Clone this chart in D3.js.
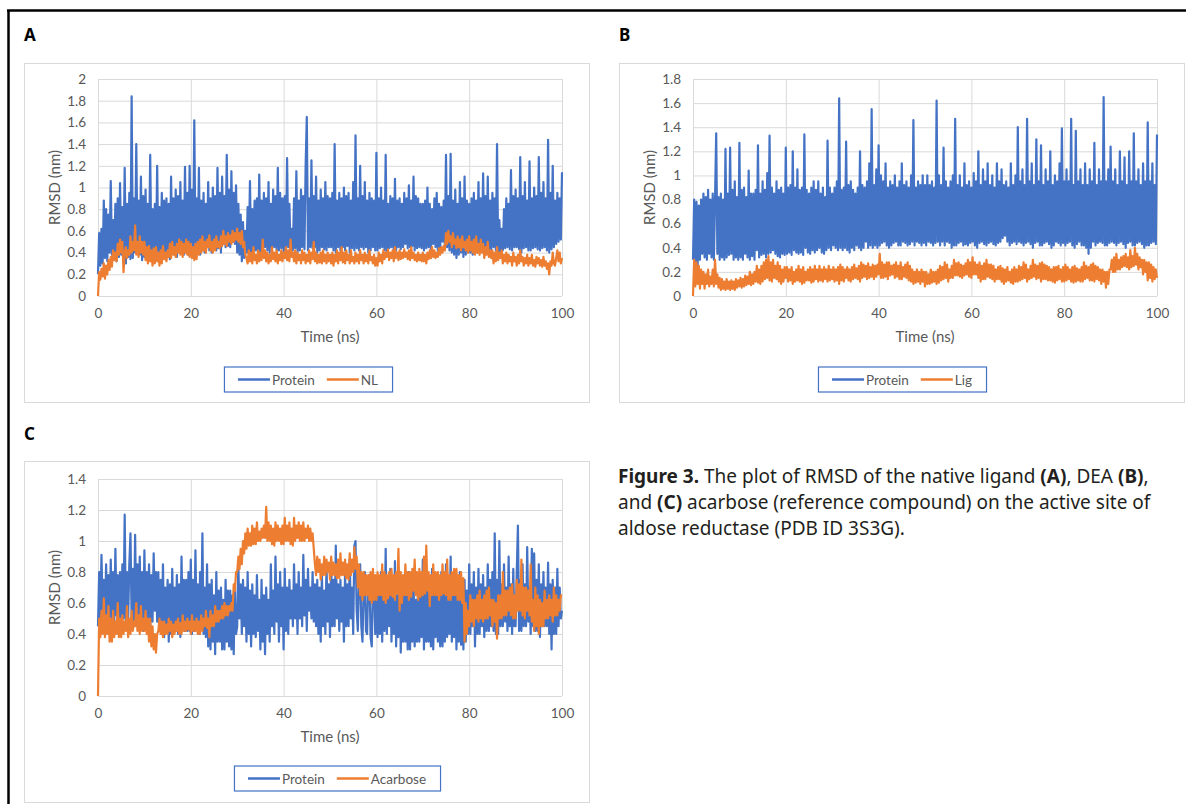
<!DOCTYPE html>
<html>
<head>
<meta charset="utf-8">
<script src="https://cdn.jsdelivr.net/npm/d3@7/dist/d3.min.js"></script>
<style>
  body { margin: 0; background: #fff; }
  svg text { font-family: Lato, "Liberation Sans", sans-serif; }
</style>
</head>
<body>
<svg id="fig" width="1186" height="804"></svg>
<script>
// ---------------------------------------------------------------
// DATA (RMSD in nm, one value every 0.25 ns from 0 to 100 ns)
// ---------------------------------------------------------------
var timeStep = 0.25;
var xTicks = [0, 20, 40, 60, 80, 100];

var proteinA = [
  0.20,0.58,0.28,0.62,0.30,0.88,0.35,0.80,0.32,0.75,0.40,1.06,0.38,0.70,0.40,0.85,0.32,0.90,0.36,1.04,
  0.38,0.82,0.33,1.18,0.30,0.85,0.36,0.95,0.34,1.84,0.35,0.90,0.40,1.40,0.42,0.88,0.38,1.10,0.33,0.92,
  0.36,0.98,0.34,0.85,0.40,1.30,0.38,0.80,0.42,0.85,0.36,1.20,0.35,0.82,0.38,0.95,0.40,0.88,0.34,0.90,
  0.36,0.85,0.34,1.10,0.40,0.90,0.38,0.98,0.36,0.92,0.40,1.05,0.42,0.88,0.38,1.19,0.40,0.95,0.38,1.20,
  0.40,0.98,0.42,1.62,0.45,0.90,0.40,1.18,0.38,0.88,0.42,0.95,0.40,0.85,0.45,1.05,0.42,0.90,0.40,1.00,
  0.45,0.92,0.42,1.18,0.44,0.95,0.40,1.10,0.48,0.92,0.45,1.30,0.46,0.98,0.45,1.15,0.50,0.95,0.48,1.02,
  0.40,0.85,0.38,0.75,0.32,0.68,0.35,0.60,0.40,0.82,0.38,1.06,0.38,0.80,0.42,0.88,0.42,0.90,0.40,1.12,
  0.40,0.88,0.42,0.95,0.45,0.90,0.42,1.05,0.40,0.85,0.44,0.98,0.45,0.92,0.42,1.18,0.42,0.95,0.44,0.90,
  0.40,0.92,0.42,1.27,0.45,0.85,0.40,0.62,0.42,0.90,0.44,1.15,0.40,0.88,0.42,0.98,0.45,0.92,0.43,1.20,
  1.65,0.42,0.90,0.45,1.25,0.44,0.92,0.45,1.10,0.40,0.88,0.42,0.98,0.45,0.90,0.43,1.05,0.42,0.92,0.45,
  0.90,0.45,0.95,0.42,1.40,0.40,0.88,0.45,0.95,0.42,0.90,0.45,1.00,0.42,0.92,0.46,0.95,0.40,0.88,0.44,
  1.05,0.42,1.48,0.44,0.90,0.42,1.20,0.45,0.92,0.43,1.05,0.45,0.88,0.40,0.95,0.42,0.90,0.45,0.88,0.42,
  1.32,0.42,0.90,0.44,1.00,0.45,0.88,0.42,1.30,0.40,0.85,0.44,0.92,0.45,0.90,0.42,1.08,0.42,0.88,0.45,
  0.90,0.43,0.85,0.45,0.95,0.48,0.90,0.44,1.02,0.45,0.88,0.46,1.10,0.42,0.92,0.44,0.90,0.45,0.85,0.44,
  0.85,0.42,0.88,0.44,1.00,0.45,0.85,0.42,0.80,0.48,0.90,0.45,0.95,0.42,0.85,0.44,0.82,0.50,0.88,0.46,
  1.30,0.45,0.92,0.42,1.31,0.40,0.88,0.38,0.98,0.35,0.85,0.38,1.05,0.40,0.90,0.36,1.10,0.38,0.88,0.40,
  0.85,0.40,0.90,0.38,0.95,0.42,0.88,0.40,1.05,0.40,0.90,0.42,1.13,0.45,0.92,0.42,1.10,0.40,0.88,0.43,
  0.95,0.45,0.90,0.42,1.40,0.38,0.70,0.40,0.62,0.42,0.80,0.44,0.90,0.45,0.85,0.43,1.16,0.42,0.92,0.45,
  0.98,0.45,0.90,0.43,1.28,0.40,0.92,0.44,1.05,0.45,0.88,0.42,1.24,0.42,0.90,0.44,1.00,0.45,0.92,0.43,
  1.28,0.42,0.95,0.44,1.05,0.45,0.90,0.42,1.44,0.40,0.95,0.43,1.20,0.45,0.88,0.48,0.95,0.50,0.90,0.52,1.14
];
var nlA = [
  0.00,0.22,0.15,0.25,0.18,0.30,0.16,0.28,0.20,0.33,0.24,0.36,0.27,0.42,0.33,0.40,0.32,0.48,0.38,0.52,
  0.40,0.50,0.22,0.40,0.45,0.35,0.42,0.38,0.55,0.40,0.50,0.42,0.65,0.38,0.50,0.36,0.55,0.40,0.50,0.38,
  0.50,0.33,0.45,0.30,0.46,0.32,0.42,0.28,0.44,0.30,0.45,0.32,0.40,0.28,0.42,0.30,0.46,0.34,0.40,0.32,
  0.42,0.36,0.48,0.35,0.50,0.38,0.45,0.36,0.48,0.40,0.52,0.38,0.50,0.36,0.48,0.40,0.52,0.38,0.50,0.36,
  0.48,0.35,0.45,0.33,0.48,0.34,0.50,0.38,0.52,0.40,0.55,0.42,0.50,0.40,0.52,0.45,0.56,0.42,0.50,0.40,
  0.52,0.42,0.55,0.45,0.50,0.44,0.55,0.46,0.60,0.48,0.55,0.46,0.58,0.50,0.56,0.48,0.60,0.50,0.58,0.52,
  0.62,0.50,0.58,0.48,0.60,0.45,0.50,0.38,0.35,0.30,0.42,0.32,0.40,0.30,0.45,0.33,0.38,0.30,0.42,0.32,
  0.40,0.33,0.52,0.35,0.42,0.32,0.40,0.30,0.38,0.32,0.45,0.34,0.40,0.32,0.42,0.30,0.38,0.33,0.42,0.32,
  0.40,0.35,0.45,0.33,0.42,0.32,0.52,0.36,0.40,0.32,0.42,0.30,0.40,0.33,0.38,0.30,0.42,0.33,0.40,0.30,
  0.38,0.32,0.42,0.30,0.40,0.34,0.50,0.32,0.40,0.30,0.38,0.31,0.40,0.30,0.42,0.32,0.38,0.30,0.40,0.32,
  0.38,0.30,0.40,0.28,0.38,0.32,0.42,0.30,0.40,0.33,0.45,0.31,0.40,0.30,0.42,0.33,0.38,0.30,0.42,0.32,
  0.36,0.30,0.40,0.32,0.38,0.30,0.42,0.33,0.38,0.30,0.40,0.32,0.38,0.30,0.42,0.33,0.36,0.30,0.38,0.28,
  0.35,0.28,0.40,0.32,0.38,0.30,0.42,0.34,0.40,0.36,0.43,0.33,0.40,0.35,0.42,0.32,0.45,0.35,0.40,0.33,
  0.42,0.34,0.40,0.35,0.43,0.36,0.40,0.34,0.42,0.33,0.45,0.35,0.40,0.33,0.38,0.32,0.40,0.33,0.38,0.32,
  0.40,0.32,0.38,0.30,0.40,0.34,0.42,0.35,0.45,0.36,0.42,0.35,0.40,0.36,0.44,0.38,0.45,0.40,0.46,0.42,
  0.58,0.48,0.60,0.50,0.55,0.45,0.58,0.48,0.52,0.44,0.55,0.45,0.52,0.42,0.55,0.45,0.50,0.42,0.52,0.40,
  0.55,0.42,0.50,0.40,0.52,0.38,0.55,0.40,0.48,0.38,0.52,0.40,0.48,0.35,0.45,0.38,0.50,0.36,0.42,0.35,
  0.42,0.30,0.40,0.32,0.45,0.33,0.40,0.35,0.42,0.30,0.38,0.32,0.40,0.30,0.38,0.32,0.36,0.28,0.40,0.32,
  0.36,0.28,0.38,0.30,0.42,0.32,0.36,0.28,0.35,0.30,0.38,0.28,0.35,0.30,0.38,0.28,0.33,0.27,0.36,0.30,
  0.35,0.28,0.33,0.27,0.36,0.28,0.32,0.25,0.30,0.20,0.32,0.28,0.40,0.30,0.28,0.35,0.42,0.32,0.40,0.30,0.35
];

var proteinB = [
  0.30,0.80,0.28,0.78,0.25,0.75,0.30,0.80,0.35,0.85,0.32,0.82,0.30,0.88,0.35,0.80,0.32,0.85,0.30,0.80,
  1.35,0.35,0.82,0.30,0.85,0.32,0.80,0.30,1.22,0.32,0.85,0.34,1.23,0.35,0.88,0.30,0.95,0.32,0.82,0.30,
  1.27,0.32,0.88,0.30,0.90,0.35,0.82,0.32,1.04,0.30,0.85,0.33,0.85,0.30,0.88,0.38,1.25,0.32,0.85,0.34,
  0.95,0.35,0.88,0.32,1.02,0.35,1.33,0.36,0.90,0.38,0.85,0.35,0.95,0.33,0.88,0.32,0.90,0.35,0.85,0.34,
  1.23,0.35,0.90,0.36,0.92,0.34,1.20,0.38,0.90,0.36,1.05,0.35,0.88,0.36,0.90,0.34,1.34,0.40,0.88,0.36,
  0.85,0.35,0.90,0.38,0.95,0.36,0.88,0.38,0.95,0.40,0.85,0.36,0.90,0.35,0.82,0.38,1.29,0.40,0.90,0.38,
  0.85,0.42,0.90,0.40,0.95,0.38,1.64,0.40,0.88,0.38,0.90,0.40,1.28,0.38,0.92,0.36,0.95,0.40,0.88,0.38,
  0.85,0.42,0.90,0.40,1.20,0.38,0.92,0.40,0.90,0.45,0.95,0.40,1.10,0.42,1.55,0.40,0.92,0.42,1.05,0.40,
  1.25,0.42,1.00,0.44,0.95,0.45,1.10,0.42,0.90,0.40,0.95,0.42,0.92,0.44,1.00,0.45,0.90,0.42,0.95,0.42,
  1.10,0.45,0.92,0.44,0.95,0.42,0.90,0.43,1.00,0.45,1.46,0.42,0.90,0.45,0.95,0.44,0.92,0.42,1.00,0.44,
  0.92,0.42,1.00,0.45,0.92,0.44,0.95,0.42,0.90,0.44,1.62,0.45,1.00,0.42,0.92,0.45,1.23,0.42,0.95,0.45,
  0.90,0.44,0.95,0.40,1.00,0.42,1.47,0.42,0.92,0.44,1.00,0.45,0.90,0.42,1.10,0.43,0.92,0.42,0.95,0.44,
  0.90,0.45,1.02,0.42,0.95,0.40,1.20,0.44,0.92,0.45,1.05,0.43,0.95,0.42,1.10,0.44,0.92,0.45,1.00,0.43,
  0.90,0.42,1.10,0.44,0.95,0.45,1.05,0.48,0.92,0.50,0.95,0.45,0.90,0.42,1.10,0.44,0.92,0.45,1.00,0.43,
  1.40,0.45,0.95,0.44,1.05,0.42,0.92,0.44,1.47,0.45,0.95,0.43,1.10,0.40,0.92,0.44,1.30,0.45,0.95,0.42,
  1.25,0.42,0.92,0.44,1.05,0.45,0.95,0.43,1.20,0.40,0.92,0.42,1.00,0.45,0.95,0.44,1.10,0.42,1.39,0.44,
  0.95,0.42,1.05,0.44,0.95,0.45,1.47,0.42,0.92,0.40,1.37,0.43,0.95,0.45,1.05,0.42,0.92,0.42,1.10,0.40,
  0.92,0.35,1.05,0.40,0.95,0.45,1.27,0.42,0.92,0.44,1.05,0.45,0.95,0.44,1.65,0.42,0.95,0.42,1.05,0.44,
  1.24,0.45,0.95,0.44,1.05,0.42,0.92,0.44,1.20,0.45,0.95,0.43,1.15,0.40,0.92,0.44,1.20,0.45,0.95,0.42,
  1.35,0.42,0.95,0.44,1.05,0.45,0.92,0.43,1.10,0.40,0.95,0.42,1.44,0.42,0.95,0.44,1.10,0.45,0.92,0.43,1.34
];
var ligB = [
  0.00,0.30,0.08,0.28,0.10,0.25,0.06,0.22,0.10,0.20,0.06,0.18,0.10,0.22,0.08,0.16,0.10,0.22,0.08,0.30,
  0.10,0.18,0.07,0.15,0.05,0.14,0.06,0.12,0.05,0.14,0.06,0.12,0.05,0.13,0.06,0.12,0.05,0.14,0.07,0.13,
  0.08,0.15,0.07,0.14,0.08,0.17,0.09,0.16,0.10,0.20,0.09,0.18,0.10,0.20,0.12,0.25,0.11,0.22,0.10,0.25,
  0.12,0.28,0.14,0.30,0.15,0.33,0.13,0.28,0.12,0.30,0.15,0.25,0.14,0.28,0.12,0.25,0.10,0.22,0.12,0.24,
  0.15,0.24,0.12,0.22,0.13,0.24,0.10,0.20,0.12,0.22,0.13,0.25,0.12,0.22,0.10,0.24,0.11,0.20,0.13,0.22,
  0.13,0.24,0.11,0.22,0.12,0.25,0.14,0.22,0.12,0.25,0.13,0.22,0.12,0.24,0.14,0.22,0.12,0.25,0.13,0.22,
  0.14,0.24,0.12,0.22,0.13,0.24,0.10,0.26,0.13,0.24,0.12,0.22,0.15,0.24,0.13,0.22,0.12,0.24,0.14,0.26,
  0.15,0.23,0.14,0.25,0.12,0.28,0.15,0.26,0.16,0.25,0.14,0.27,0.15,0.24,0.16,0.26,0.14,0.25,0.16,0.26,
  0.18,0.35,0.15,0.28,0.15,0.26,0.16,0.28,0.14,0.28,0.17,0.25,0.18,0.26,0.15,0.28,0.16,0.25,0.14,0.28,
  0.14,0.24,0.16,0.26,0.15,0.28,0.13,0.25,0.12,0.22,0.10,0.20,0.11,0.22,0.12,0.20,0.10,0.22,0.12,0.20,
  0.08,0.20,0.10,0.18,0.10,0.22,0.11,0.20,0.12,0.20,0.10,0.22,0.11,0.25,0.13,0.24,0.14,0.28,0.15,0.26,
  0.12,0.22,0.15,0.25,0.15,0.30,0.17,0.27,0.17,0.28,0.16,0.26,0.15,0.25,0.17,0.27,0.18,0.30,0.16,0.28,
  0.15,0.32,0.18,0.28,0.18,0.26,0.15,0.28,0.12,0.25,0.14,0.27,0.14,0.30,0.16,0.26,0.15,0.26,0.14,0.25,
  0.12,0.22,0.14,0.24,0.14,0.25,0.12,0.23,0.10,0.22,0.12,0.24,0.13,0.20,0.11,0.22,0.10,0.24,0.12,0.22,
  0.12,0.25,0.13,0.24,0.14,0.28,0.15,0.26,0.12,0.22,0.14,0.25,0.15,0.30,0.16,0.26,0.14,0.25,0.15,0.27,
  0.12,0.28,0.14,0.26,0.14,0.25,0.13,0.24,0.13,0.22,0.12,0.24,0.11,0.24,0.13,0.25,0.14,0.22,0.12,0.24,
  0.12,0.26,0.13,0.24,0.14,0.22,0.12,0.24,0.11,0.25,0.12,0.23,0.13,0.22,0.12,0.24,0.12,0.28,0.14,0.25,
  0.15,0.24,0.13,0.26,0.13,0.27,0.12,0.25,0.14,0.24,0.13,0.22,0.10,0.22,0.12,0.20,0.07,0.20,0.10,0.22,
  0.22,0.30,0.20,0.32,0.20,0.35,0.22,0.30,0.22,0.32,0.24,0.33,0.25,0.35,0.24,0.32,0.22,0.38,0.24,0.33,
  0.25,0.40,0.26,0.35,0.22,0.32,0.24,0.30,0.18,0.30,0.20,0.28,0.13,0.28,0.15,0.26,0.12,0.24,0.14,0.22,0.15
];

var proteinC = [
  0.45,0.80,0.50,0.91,0.55,0.75,0.50,0.85,0.48,0.78,0.50,0.88,0.45,0.80,0.48,0.95,0.52,0.78,0.50,0.80,
  0.45,0.85,0.50,1.17,0.48,0.80,0.50,0.85,1.05,0.48,0.82,0.45,1.04,0.50,0.85,0.48,0.90,0.45,0.80,0.42,
  0.94,0.50,0.80,0.48,0.85,0.45,0.78,0.48,0.92,0.55,0.80,0.48,0.80,0.42,0.75,0.40,0.85,0.38,0.70,0.42,
  0.75,0.35,0.72,0.40,0.82,0.45,0.70,0.42,0.78,0.40,0.72,0.38,0.90,0.48,0.75,0.42,0.75,0.42,0.80,0.42,
  0.88,0.40,0.75,0.42,0.94,0.45,0.72,0.40,0.80,0.45,1.05,0.40,0.70,0.38,0.85,0.32,0.72,0.30,0.75,0.35,
  0.65,0.27,0.80,0.35,0.68,0.35,0.70,0.30,0.62,0.30,0.75,0.35,0.68,0.32,0.68,0.30,0.65,0.27,0.72,0.40,
  0.45,0.85,0.50,0.72,0.40,0.75,0.45,0.70,0.35,0.80,0.40,0.68,0.32,0.72,0.40,0.65,0.38,0.78,0.42,0.62,
  0.30,0.75,0.35,0.65,0.27,0.70,0.40,0.62,0.35,0.85,0.45,0.68,0.40,0.90,0.48,0.72,0.35,0.80,0.45,0.70,
  0.30,0.82,0.42,0.70,0.40,0.75,0.50,0.68,0.45,0.85,0.50,0.72,0.40,0.80,0.50,0.70,0.45,0.91,0.52,0.75,
  0.42,0.82,0.55,0.70,0.50,0.80,0.48,0.72,0.45,0.75,0.40,0.70,0.35,0.78,0.45,0.68,0.40,0.85,0.48,0.72,
  0.38,0.87,0.45,0.75,0.45,0.97,0.50,0.72,0.42,0.75,0.48,0.70,0.35,0.80,0.45,0.72,0.45,0.88,0.50,0.70,
  0.40,0.97,1.00,0.55,0.42,0.75,0.85,0.45,0.35,0.70,0.80,0.42,0.40,0.75,0.78,0.38,0.32,0.70,0.75,0.40,
  0.75,0.38,0.68,0.40,0.80,0.35,0.72,0.42,0.95,0.40,0.70,0.45,0.82,0.35,0.68,0.40,0.87,0.32,0.65,0.38,
  0.78,0.28,0.62,0.35,0.70,0.35,0.65,0.30,0.80,0.30,0.68,0.35,0.75,0.32,0.62,0.35,0.78,0.35,0.65,0.38,
  0.88,0.30,0.70,0.35,0.78,0.35,0.65,0.32,0.82,0.30,0.68,0.38,0.75,0.35,0.62,0.32,0.80,0.32,0.70,0.35,
  0.85,0.38,0.72,0.40,0.90,0.35,0.68,0.38,0.78,0.30,0.65,0.35,0.80,0.33,0.70,0.30,0.75,0.35,0.68,0.40,
  0.85,0.40,0.72,0.45,0.80,0.32,0.70,0.40,0.82,0.40,0.72,0.45,0.78,0.38,0.70,0.42,0.85,0.42,0.75,0.45,
  0.80,0.42,1.05,0.40,0.75,0.40,1.00,0.45,0.72,0.45,0.85,0.48,0.70,0.42,0.90,0.45,0.72,0.40,0.82,0.45,
  0.45,0.80,1.10,0.42,0.75,0.42,0.85,0.45,0.72,0.45,0.96,0.48,0.70,0.40,0.95,0.45,0.92,0.42,0.75,0.42,
  0.85,0.38,0.72,0.45,0.80,0.45,0.70,0.45,0.86,0.40,0.72,0.30,0.75,0.40,0.70,0.40,0.82,0.45,0.70,0.50,0.55
];
var acarboseC = [
  0.00,0.50,0.38,0.55,0.40,0.63,0.38,0.52,0.40,0.58,0.35,0.50,0.35,0.55,0.38,0.48,0.40,0.60,0.38,0.50,
  0.38,0.52,0.40,0.48,0.42,0.58,0.38,0.50,0.40,0.55,0.42,0.48,0.45,0.60,0.42,0.52,0.40,0.58,0.42,0.50,
  0.42,0.55,0.40,0.50,0.35,0.50,0.32,0.45,0.30,0.40,0.28,0.40,0.42,0.50,0.40,0.48,0.38,0.48,0.40,0.46,
  0.40,0.50,0.42,0.48,0.38,0.46,0.40,0.48,0.42,0.50,0.40,0.47,0.40,0.52,0.42,0.48,0.42,0.50,0.43,0.48,
  0.40,0.52,0.42,0.48,0.42,0.50,0.40,0.48,0.40,0.52,0.42,0.50,0.45,0.55,0.44,0.50,0.38,0.55,0.45,0.52,
  0.45,0.58,0.48,0.55,0.48,0.55,0.50,0.58,0.50,0.60,0.52,0.58,0.52,0.58,0.55,0.60,0.55,0.72,0.68,0.80,
  0.80,0.90,0.82,0.95,0.85,1.00,0.92,1.05,0.95,1.08,0.97,1.05,0.97,1.10,0.98,1.08,0.98,1.12,1.00,1.06,
  1.00,1.08,1.02,1.10,1.02,1.22,1.00,1.12,1.00,1.10,0.98,1.08,0.97,1.12,1.00,1.10,1.00,1.08,0.98,1.10,
  0.98,1.15,1.00,1.10,1.00,1.12,0.98,1.08,0.97,1.15,1.00,1.10,1.02,1.12,1.00,1.10,1.00,1.12,1.00,1.08,
  1.02,1.10,1.00,1.08,1.00,1.05,0.95,0.85,0.78,0.90,0.80,0.88,0.75,0.85,0.78,0.90,0.78,0.88,0.80,0.86,
  0.75,0.90,0.78,0.86,0.78,0.85,0.76,0.88,0.76,0.92,0.78,0.86,0.78,0.88,0.76,0.85,0.75,0.92,0.78,0.88,
  0.80,0.96,0.82,0.90,0.70,0.85,0.65,0.80,0.62,0.80,0.65,0.78,0.65,0.78,0.62,0.80,0.60,0.82,0.62,0.78,
  0.62,0.80,0.65,0.78,0.65,0.85,0.62,0.80,0.60,0.78,0.63,0.80,0.65,0.82,0.64,0.78,0.62,0.80,0.66,0.95,
  0.55,0.80,0.60,0.78,0.65,0.85,0.65,0.80,0.62,0.80,0.64,0.82,0.68,0.88,0.65,0.80,0.62,0.82,0.64,0.80,
  0.65,0.90,0.66,0.97,0.68,0.80,0.58,0.78,0.65,0.85,0.65,0.80,0.65,0.80,0.62,0.78,0.65,0.85,0.66,0.80,
  0.65,0.88,0.62,0.78,0.62,0.80,0.65,0.82,0.65,0.82,0.62,0.78,0.62,0.80,0.60,0.76,0.35,0.60,0.40,0.55,
  0.45,0.65,0.48,0.62,0.45,0.62,0.50,0.65,0.48,0.68,0.50,0.62,0.48,0.65,0.50,0.68,0.50,0.70,0.52,0.62,
  0.45,0.62,0.48,0.60,0.37,0.65,0.50,0.65,0.50,0.80,0.52,0.68,0.52,0.68,0.55,0.70,0.52,0.72,0.50,0.65,
  0.50,0.75,0.55,0.72,0.55,0.88,0.52,0.70,0.50,0.70,0.55,0.68,0.52,0.85,0.48,0.62,0.42,0.70,0.45,0.65,
  0.40,0.62,0.45,0.60,0.45,0.68,0.50,0.62,0.50,0.65,0.52,0.62,0.48,0.70,0.52,0.65,0.52,0.62,0.55,0.65,0.65
];

var yTicksA = [0, 0.2, 0.4, 0.6, 0.8, 1, 1.2, 1.4, 1.6, 1.8, 2];
var yTicksB = [0, 0.2, 0.4, 0.6, 0.8, 1, 1.2, 1.4, 1.6, 1.8];
var yTicksC = [0, 0.2, 0.4, 0.6, 0.8, 1, 1.2, 1.4];

var seriesNamesA = ['Protein', 'NL'];
var seriesNamesB = ['Protein', 'Lig'];
var seriesNamesC = ['Protein', 'Acarbose'];

// ---------------------------------------------------------------
// LAYOUT / STYLE
// ---------------------------------------------------------------
var BLUE = '#4472c4',
    ORANGE = '#ed7d31',
    GRID = '#d9d9d9',
    TEXT = '#595959';

var panels = [
  { label: 'A', labelX: 24, labelY: 41, frame: [24, 63, 589, 402], plot: [98, 79, 562, 296],
    yTicks: yTicksA, names: seriesNamesA, values: [proteinA, nlA], legendCx: 308, legendY: 367 },
  { label: 'B', labelX: 619, labelY: 41, frame: [619, 63, 1184, 402], plot: [693, 79, 1157, 296],
    yTicks: yTicksB, names: seriesNamesB, values: [proteinB, ligB], legendCx: 902, legendY: 367 },
  { label: 'C', labelX: 24, labelY: 440, frame: [24, 461, 589, 802], plot: [98, 479, 562, 696],
    yTicks: yTicksC, names: seriesNamesC, values: [proteinC, acarboseC], legendCx: 337, legendY: 766 }
];
var colors = [BLUE, ORANGE];

var svg = d3.select('#fig');

// outer black frame (top + left edge)
svg.append('line').attr('x1', 7).attr('x2', 1186).attr('y1', 10.5).attr('y2', 10.5)
    .attr('stroke', '#000').attr('stroke-width', 2.5);
svg.append('line').attr('x1', 8.5).attr('x2', 8.5).attr('y1', 10).attr('y2', 804)
    .attr('stroke', '#000').attr('stroke-width', 2.5);

var drawPanel = function (p) {
  var g = svg.append('g');

  g.append('text')
      .attr('x', p.labelX).attr('y', p.labelY)
      .style('font-family', '"Noto Sans", sans-serif')
      .style('font-weight', 'bold').style('font-size', '17px')
      .attr('fill', '#000')
      .text(p.label);

  // chart frame
  g.append('rect')
      .attr('x', p.frame[0] + 0.5).attr('y', p.frame[1] + 0.5)
      .attr('width', p.frame[2] - p.frame[0]).attr('height', p.frame[3] - p.frame[1])
      .attr('fill', '#fff').attr('stroke', GRID);

  var x = d3.scaleLinear().domain([0, 100]).range([p.plot[0], p.plot[2]]);
  var yMax = p.yTicks[p.yTicks.length - 1];
  var y = d3.scaleLinear().domain([0, yMax]).range([p.plot[3], p.plot[1]]);
  var w = p.plot[2] - p.plot[0], h = p.plot[3] - p.plot[1];

  // gridlines + tick labels
  var gx = g.append('g').attr('transform', 'translate(0,' + p.plot[3] + ')')
      .call(d3.axisBottom(x).tickValues(xTicks).tickSize(-h).tickPadding(12).tickFormat(d3.format('d')));
  var gy = g.append('g').attr('transform', 'translate(' + p.plot[0] + ',0)')
      .call(d3.axisLeft(y).tickValues(p.yTicks).tickSize(-w).tickPadding(12)
        .tickFormat(function (d) { return String(+d.toFixed(1)); }));
  [gx, gy].forEach(function (ax) {
    ax.select('.domain').remove();
    ax.selectAll('.tick line').attr('stroke', GRID).attr('stroke-width', 1);
    ax.selectAll('.tick text').attr('fill', TEXT).style('font-size', '13.5px')
      .style('font-family', 'Lato, sans-serif');
  });

  // series
  var line = d3.line()
      .x(function (d, i) { return x(i * timeStep); })
      .y(function (d) { return y(d); });
  p.values.forEach(function (vals, k) {
    g.append('path').datum(vals)
        .attr('d', line)
        .attr('fill', 'none')
        .attr('stroke', colors[k])
        .attr('stroke-width', 2.2)
        .attr('stroke-linejoin', 'round');
  });

  // axis titles
  g.append('text')
      .attr('x', (p.plot[0] + p.plot[2]) / 2).attr('y', p.plot[3] + 46)
      .attr('text-anchor', 'middle').attr('fill', TEXT).style('font-size', '15px')
      .text('Time (ns)');
  g.append('text')
      .attr('transform', 'translate(' + (p.plot[0] - 38) + ',' + ((p.plot[1] + p.plot[3]) / 2) + ') rotate(-90)')
      .attr('text-anchor', 'middle').attr('fill', TEXT).style('font-size', '15px')
      .text('RMSD (nm)');

  // legend
  var lg = g.append('g');
  var box = lg.append('rect').attr('fill', '#fff').attr('stroke', BLUE).attr('stroke-width', 1.2);
  var cx = 0, pad = 14, lineLen = 32;
  p.names.forEach(function (name, k) {
    lg.append('line').attr('x1', cx).attr('x2', cx + lineLen)
        .attr('y1', 0).attr('y2', 0)
        .attr('stroke', colors[k]).attr('stroke-width', 2.5);
    var t = lg.append('text').attr('x', cx + lineLen + 2).attr('y', 5)
        .attr('fill', TEXT).style('font-size', '13.5px').text(name);
    cx += lineLen + 2 + t.node().getComputedTextLength() + 12;
  });
  var innerW = cx - 12;
  var bw = innerW + pad * 2, bh = 25;
  var left = p.legendCx - bw / 2;
  box.attr('x', -pad + 0.5).attr('y', -bh / 2).attr('width', bw).attr('height', bh);
  lg.attr('transform', 'translate(' + (left + pad) + ',' + (p.legendY + bh / 2) + ')');
};

panels.forEach(drawPanel);

// ---------------------------------------------------------------
// CAPTION
// ---------------------------------------------------------------
var captionLines = [
  [['Figure 3.', true], [' The plot of RMSD of the native ligand ', false], ['(A)', true], [', DEA ', false], ['(B)', true], [',', false]],
  [['and ', false], ['(C)', true], [' acarbose (reference compound) on the active site of', false]],
  [['aldose reductase (PDB ID 3S3G).', false]]
];
var cap = svg.append('g');
var capTexts = captionLines.map(function (parts, i) {
  var t = cap.append('text').attr('x', 618).attr('y', 483 + i * 26)
      .attr('fill', '#231f20')
      .style('font-family', '"Noto Sans", sans-serif').style('font-size', '16px');
  parts.forEach(function (pt) {
    t.append('tspan').style('font-weight', pt[1] ? 'bold' : 'normal').text(pt[0]);
  });
  return t;
});
// fit first line to the width it has in the figure
var fs = 16 * 531 / capTexts[0].node().getComputedTextLength();
capTexts.forEach(function (t) { t.style('font-size', fs + 'px'); });
</script>
</body>
</html>
